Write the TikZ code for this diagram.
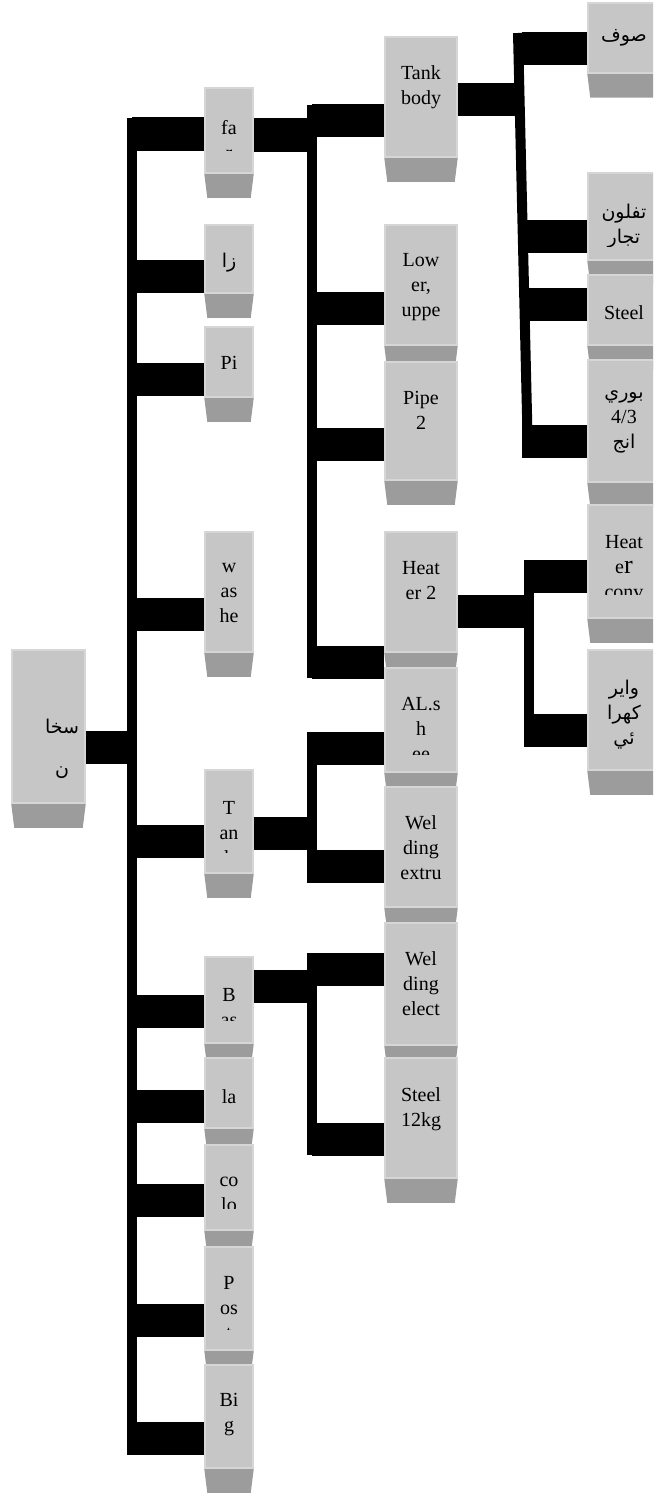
\documentclass[tikz,border=0pt]{standalone}
\usepackage{fontspec}
\setmainfont{Liberation Serif}
\newfontfamily\arabicfont[Script=Arabic]{DejaVu Sans}
\TeXXeTstate=1
\usepackage{tikz}
\usepackage{xcolor}
\definecolor{boxc}{HTML}{C6C6C6}
\definecolor{rimc}{HTML}{D6D6D6}
\definecolor{shadec}{HTML}{9C9C9C}
\newcommand{\rtl}[1]{\beginR #1\endR}
\newcommand{\artxt}[1]{{\arabicfont\fontsize{19}{25}\selectfont\rtl{#1}}}
\tikzset{
  box/.style={fill=boxc, draw=rimc, line width=1.5pt, inner sep=0pt,
    append after command={\pgfextra{\fill[shadec] (\tikzlastnode.south west) -- (\tikzlastnode.south east) -- ([shift={(-3,24)}]\tikzlastnode.south east) -- ([shift={(3,24)}]\tikzlastnode.south west) -- cycle;}}},
  rootbox/.style={box, minimum width=73},
  boxone/.style={box, minimum width=48},
  boxtwo/.style={box, minimum width=72},
  txtfont/.store in=\txtfont, txtfont=\fontsize{20}{25}\selectfont,
  txt/.style n args={3}{path picture={
    \clip ([shift={(2,2)}]path picture bounding box.north west) rectangle ([shift={(-2,-#3)}]path picture bounding box.south east);
    \node[inner sep=0pt, align=center, font=\txtfont] at ([shift={#2}]path picture bounding box.north) {#1};}},
  bar/.style={line width=33pt},
  spine/.style={line width=10pt},
}

\begin{document}
\begin{tikzpicture}[x=1pt, y=-1pt]
\useasboundingbox (0,0) rectangle (653,1493);
\clip (0,0) rectangle (653,1493);
\node[rootbox, minimum height=153, txtfont=\arabicfont\fontsize{19}{42}\selectfont, txt={\rtl{سخا}\\\rtl{ن}}{(13.5,99)}{10}] (heater) at (48.5,726.5) {};
\node[boxone, minimum height=85, txt={fa\\r}{(0,51.5)}{23}] (far) at (229,130.5) {};
\node[boxone, minimum height=68, txt={\artxt{زا}}{(0,38)}{8}] (za) at (229,259) {};
\node[boxone, minimum height=70, txt={Pi}{(0,36)}{8}] (pi) at (229,362) {};
\node[boxone, minimum height=120, txt={w\\as\\he}{(0,61)}{8}] (washe) at (229,592) {};
\node[boxone, minimum height=103, txt={T\\an\\k}{(0,63)}{21}] (tankone) at (229,821.5) {};
\node[boxone, minimum height=86, txt={B\\as}{(0,50.5)}{23}] (bas) at (229,1000) {};
\node[boxone, minimum height=70, txt={la}{(0,39)}{8}] (la) at (229,1093) {};
\node[boxone, minimum height=85, txt={co\\lo}{(0,49.5)}{22}] (colo) at (229,1187.5) {};
\node[boxone, minimum height=103, txt={P\\os\\t}{(0,61)}{21}] (post) at (229,1298.5) {};
\node[boxone, minimum height=103, txt={Bi\\g}{(0,50)}{8}] (big) at (229,1416.5) {};
\node[boxtwo, minimum height=120, txt={Tank\\body}{(0,50.5)}{8}] (tank) at (421,97) {};
\node[boxtwo, minimum height=120, txt={Low\\er,\\uppe}{(0,62)}{8}] (lower) at (421,285) {};
\node[boxtwo, minimum height=118, txt={Pipe\\2}{(0,48)}{8}] (pipe) at (421,421) {};
\node[boxtwo, minimum height=120, txt={Heat\\er 2}{(0,49)}{8}] (heatertwo) at (421,592) {};
\node[boxtwo, minimum height=104, txt={AL.s\\h\\ee}{(0,60.5)}{18}] (alsh) at (421,720) {};
\node[boxtwo, minimum height=120, txt={Wel\\ding\\extru}{(0,61)}{8}] (weldex) at (421,847) {};
\node[boxtwo, minimum height=122, txt={Wel\\ding\\elect}{(0,61)}{8}] (weldel) at (421,984) {};
\node[boxtwo, minimum height=120, txt={Steel\\12kg}{(0,51.5)}{8}] (steelkg) at (421,1118) {};
\node[boxtwo, minimum height=70, txt={\artxt{صوف}}{(0,35)}{8}] (soof) at (624,38) {};
\node[boxtwo, minimum height=87, txt={\artxt{تفلون}\\\artxt{تجار}}{(0,53)}{14}] (teflon) at (624,216.5) {};
\node[boxtwo, minimum height=70, txt={Steel}{(0,38)}{8}] (steel) at (624,310) {};
\node[boxtwo, minimum height=122, txt={\artxt{بوري}\\4/3\\\artxt{انج}}{(0,61.5)}{8}] (boori) at (624,421) {};
\node[boxtwo, minimum height=113, txt={Heat\\e{\fontsize{26}{25}\selectfont r}\\conv}{(0,62.5)}{24}] (heatconv) at (624,561.5) {};
\node[boxtwo, minimum height=120, txt={\artxt{واير}\\\artxt{كهرا}\\\artxt{ئي}}{(0,65)}{8}] (wire) at (624,710) {};
\coordinate (sa) at (132,0);
\coordinate (sb) at (312,0);
\coordinate (sc) at (522,0);
\coordinate (sd) at (529,0);
\coordinate (sctop) at (518,33);
\coordinate (scbot) at (528,457);
\draw[spine] (sa |- 0,118) -- (sa |- 0,1455);
\draw[bar] (heater.east |- 0,747.5) -- (sa |- 0,747.5);
\draw[bar] (sa |- 0,134) -- (far.west |- 0,134);
\draw[bar] (sa |- 0,276.5) -- (za.west |- 0,276.5);
\draw[bar] (sa |- 0,379) -- (pi.west |- 0,379);
\draw[bar] (sa |- 0,614) -- (washe.west |- 0,614);
\draw[bar] (sa |- 0,841.5) -- (tankone.west |- 0,841.5);
\draw[bar] (sa |- 0,1011) -- (bas.west |- 0,1011);
\draw[bar] (sa |- 0,1106.5) -- (la.west |- 0,1106.5);
\draw[bar] (sa |- 0,1200) -- (colo.west |- 0,1200);
\draw[bar] (sa |- 0,1320) -- (post.west |- 0,1320);
\draw[bar] (sa |- 0,1438.5) -- (big.west |- 0,1438.5);
\draw[spine] (sb |- 0,105) -- (sb |- 0,678);
\draw[bar] (far.east |- 0,135) -- (sb |- 0,135);
\draw[bar] (sb |- 0,121) -- (tank.west |- 0,121);
\draw[bar] (sb |- 0,308.5) -- (lower.west |- 0,308.5);
\draw[bar] (sb |- 0,444) -- (pipe.west |- 0,444);
\draw[bar] (sb |- 0,662.5) -- (heatertwo.west |- 0,662.5);
\draw[spine] (sb |- 0,732) -- (sb |- 0,883);
\draw[bar] (tankone.east |- 0,833.5) -- (sb |- 0,833.5);
\draw[bar] (sb |- 0,748) -- (alsh.west |- 0,748);
\draw[bar] (sb |- 0,866.5) -- (weldex.west |- 0,866.5);
\draw[spine] (sb |- 0,953) -- (sb |- 0,1155);
\draw[bar] (bas.east |- 0,986) -- (sb |- 0,986);
\draw[bar] (sb |- 0,969) -- (weldel.west |- 0,969);
\draw[bar] (sb |- 0,1139) -- (steelkg.west |- 0,1139);
\draw[spine] (sctop) -- (scbot);
\draw[bar] (tank.east |- 0,100) -- (sc |- 0,100);
\draw[bar] (sc |- 0,49) -- (soof.west |- 0,49);
\draw[bar] (sc |- 0,236) -- (teflon.west |- 0,236);
\draw[bar] (sc |- 0,304) -- (steel.west |- 0,304);
\draw[bar] (sc |- 0,441) -- (boori.west |- 0,441);
\draw[spine] (sd |- 0,560) -- (sd |- 0,747);
\draw[bar] (heatertwo.east |- 0,611.5) -- (sd |- 0,611.5);
\draw[bar] (sd |- 0,576) -- (heatconv.west |- 0,576);
\draw[bar] (sd |- 0,730) -- (wire.west |- 0,730);
\end{tikzpicture}
\end{document}
